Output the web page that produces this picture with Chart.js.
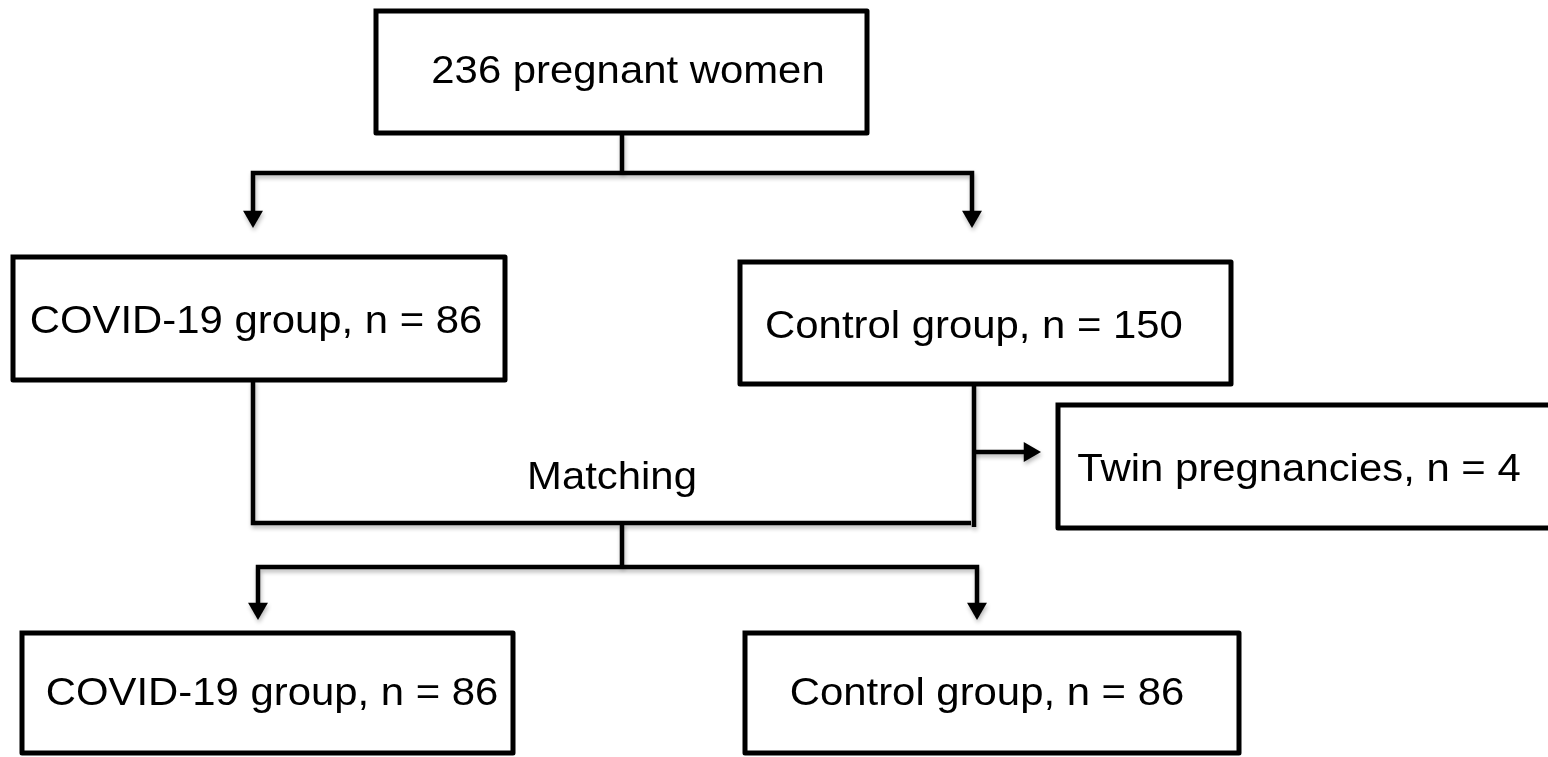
<!DOCTYPE html>
<html>
<head>
<meta charset="utf-8">
<script src="https://cdn.jsdelivr.net/npm/chart.js@4.4.1/dist/chart.umd.min.js"></script>
<style>
  html, body { margin: 0; padding: 0; background: #ffffff; }
  #wrap { width: 1548px; height: 757px; }
</style>
</head>
<body>
<div id="wrap"><canvas id="c" width="1548" height="757"></canvas></div>
<script>
// ---- data: counts shown in the flow chart ----
const totalWomen = 236;
const covidCount = 86;
const controlCount = 150;
const twinCount = 4;
const matchedCovid = 86;
const matchedControl = 86;

// ---- text of each node ----
const nodeTexts = [
  totalWomen + ' pregnant women',
  'COVID-19 group, n = ' + covidCount,
  'Control group, n = ' + controlCount,
  'Twin pregnancies, n = ' + twinCount,
  'COVID-19 group, n = ' + matchedCovid,
  'Control group, n = ' + matchedControl
];
const stepText = 'Matching';

// ---- layout (canvas-unit coordinates on hidden linear axes) ----
const boxRects = [            // [left, top, right, bottom]
  [376, 11, 867, 133],
  [13, 257, 505, 380],
  [740, 262, 1231, 384],
  [1058, 405, 1566, 528],
  [22, 633, 513, 753],
  [745, 633, 1239, 753]
];
const textAnchors = [         // [centre x, baseline y]
  [628, 83],
  [256, 333],
  [974, 338],
  [1299, 481],
  [272, 705],
  [987, 705]
];
const stepAnchor = [612, 489];

const connectors = [
  [[622, 133], [622, 173]],
  [[253, 214], [253, 173], [972, 173], [972, 214]],
  [[253, 380], [253, 523], [971, 523]],
  [[974, 384], [974, 527]],
  [[974, 452], [1028, 452]],
  [[622, 523], [622, 567]],
  [[258, 606], [258, 567], [977, 567], [977, 606]]
];
const arrowTipsDown = [[253, 228], [972, 228], [258, 620], [977, 620]];
const arrowTipsRight = [[1041, 452]];
const arrowRadius = 11.5;

// ---- build datasets ----
const datasets = [];
boxRects.forEach(r => {
  datasets.push({
    data: [
      {x: r[0], y: r[1]}, {x: r[2], y: r[1]}, {x: r[2], y: r[3]},
      {x: r[0], y: r[3]}, {x: r[0], y: r[1]}
    ],
    showLine: true, borderColor: '#000', borderWidth: 5,
    borderJoinStyle: 'round', borderCapStyle: 'square',
    pointRadius: 0, fill: false, tension: 0
  });
});
connectors.forEach(seg => {
  datasets.push({
    data: seg.map(p => ({x: p[0], y: p[1]})),
    showLine: true, borderColor: '#000', borderWidth: 4.5,
    borderJoinStyle: 'miter', borderCapStyle: 'butt',
    pointRadius: 0, fill: false, tension: 0, shadow: true
  });
});
datasets.push({
  data: arrowTipsDown.map(p => ({x: p[0], y: p[1] - arrowRadius})),
  showLine: false, pointStyle: 'triangle', rotation: 180,
  pointRadius: arrowRadius, pointBackgroundColor: '#000',
  pointBorderWidth: 0, shadow: true
});
datasets.push({
  data: arrowTipsRight.map(p => ({x: p[0] - arrowRadius, y: p[1]})),
  showLine: false, pointStyle: 'triangle', rotation: 90,
  pointRadius: arrowRadius, pointBackgroundColor: '#000',
  pointBorderWidth: 0, shadow: true
});

const shadowPlugin = {
  id: 'shadow',
  beforeDatasetDraw(chart, args) {
    const ds = chart.data.datasets[args.index];
    if (ds.shadow) {
      const ctx = chart.ctx;
      ctx.save();
      ctx.shadowColor = 'rgba(0,0,0,0.28)';
      ctx.shadowBlur = 4;
      ctx.shadowOffsetX = 1;
      ctx.shadowOffsetY = 3;
    }
  },
  afterDatasetDraw(chart, args) {
    const ds = chart.data.datasets[args.index];
    if (ds.shadow) chart.ctx.restore();
  }
};

const textPlugin = {
  id: 'nodeText',
  afterDatasetsDraw(chart) {
    const ctx = chart.ctx;
    const xs = chart.scales.x, ys = chart.scales.y;
    const draw = (txt, a) => {
      ctx.save();
      ctx.translate(xs.getPixelForValue(a[0]), ys.getPixelForValue(a[1]));
      ctx.scale(1.06, 1);
      ctx.font = '39.5px "Liberation Sans", Arial, sans-serif';
      ctx.fillStyle = '#000';
      ctx.textAlign = 'center';
      ctx.textBaseline = 'alphabetic';
      ctx.fillText(txt, 0, 0);
      ctx.restore();
    };
    nodeTexts.forEach((t, i) => draw(t, textAnchors[i]));
    draw(stepText, stepAnchor);
  }
};

new Chart(document.getElementById('c'), {
  type: 'scatter',
  data: { datasets },
  options: {
    responsive: false,
    devicePixelRatio: 1,
    animation: false,
    layout: { padding: 0, autoPadding: false },
    plugins: { legend: { display: false }, tooltip: { enabled: false } },
    scales: {
      x: { type: 'linear', min: 0, max: 1548, display: false },
      y: { type: 'linear', min: 0, max: 757, reverse: true, display: false }
    }
  },
  plugins: [shadowPlugin, textPlugin]
});
</script>
</body>
</html>
